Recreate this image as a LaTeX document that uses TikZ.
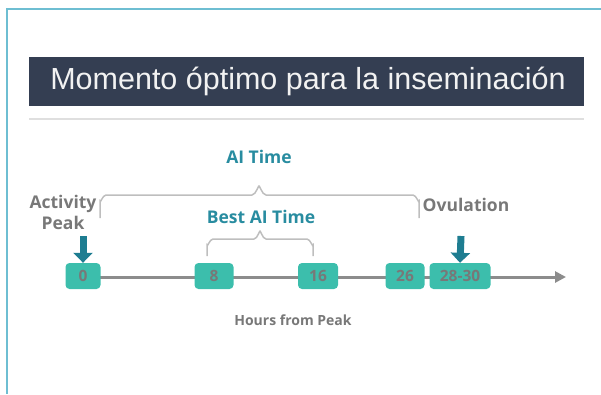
\documentclass[tikz,border=0pt]{standalone}
\usepackage{fontspec}
\setmainfont{Open Sans}
\newfontfamily\titlefont{Liberation Sans}
\usetikzlibrary{arrows.meta}
\definecolor{barblue}{RGB}{52,62,82}
\definecolor{frameblue}{RGB}{110,190,210}
\definecolor{boxteal}{RGB}{60,190,172}
\definecolor{arrowteal}{RGB}{30,125,145}
\definecolor{labelteal}{RGB}{40,140,160}
\definecolor{txtgray}{RGB}{120,120,120}
\definecolor{bracegray}{RGB}{190,190,190}
\tikzset{
  hourbox/.style={fill=boxteal, rounded corners=4pt, minimum height=26pt, inner sep=0pt,
    text=txtgray, font=\fontsize{15.5}{16}\selectfont\bfseries},
  tag/.style={text=txtgray, font=\fontsize{17.5}{21}\selectfont\bfseries, align=center},
  aitag/.style={text=labelteal, font=\fontsize{17.5}{21}\selectfont\bfseries},
  brace/.style={draw=bracegray, line width=1.5pt},
  drop/.style={arrowteal, line width=7pt, -{Triangle[length=10pt,width=19pt]}}
}
\begin{document}
\begin{tikzpicture}[x=1pt,y=-1pt]
    \useasboundingbox (0,0) rectangle (601,394);
    \draw[frameblue, line width=2pt] (601,9) -| (7,394);
    \fill[barblue] (29,57) rectangle (584,106);
    \node[text=white!90!gray, font=\titlefont\fontsize{30.5}{30.5}\selectfont] (title) at (308,81) {Momento óptimo para la inseminación};
    \draw[gray!25, line width=2pt] (29,119) -- (584,119);

    % time line
    \coordinate (start) at (83,277);
    \coordinate (tip) at (566,277);
    \draw[gray!90, line width=3pt, -{Triangle[length=11pt,width=11pt]}] (start) -- (tip);
    \node[hourbox, minimum width=35pt] (h0) at (83,276) {0};
    \node[hourbox, minimum width=39pt] (h8) at (214,276) {8};
    \node[hourbox, minimum width=40pt] (h16) at (318,276) {16};
    \node[hourbox, minimum width=39pt] (h26) at (405,276) {26};
    \node[hourbox, minimum width=61pt] (h28) at (460,276) {28-30};

    % braces
    \draw[brace] (100,218) -- (100,201) to[out=-90,in=180] (106,195) -- (252,195)
        to[out=0,in=90] (259,187) to[out=90,in=180] (266,195) -- (413,195)
        to[out=0,in=-90] (419,201) -- (419,218);
    \draw[brace] (207,256) -- (207,245) to[out=-90,in=180] (213,239) -- (254,239)
        to[out=0,in=90] (260,232) to[out=90,in=180] (266,239) -- (307,239)
        to[out=0,in=-90] (313,245) -- (313,256);
    \node[aitag] (ai) at (259,157) {AI Time};
    \node[aitag] (best) at (261,217) {Best AI Time};

    \node[tag] (peak) at (63,212) {Activity\\Peak};
    \node[tag] (ovu) at (466,205) {Ovulation};
    \draw[drop] (83,236) -- (h0.north);
    \draw[drop] (461,236) -- (h28.north);
    \node[tag, font=\fontsize{14}{16}\selectfont\bfseries] (hours) at (293,320) {Hours from Peak};
\end{tikzpicture}
\end{document}
